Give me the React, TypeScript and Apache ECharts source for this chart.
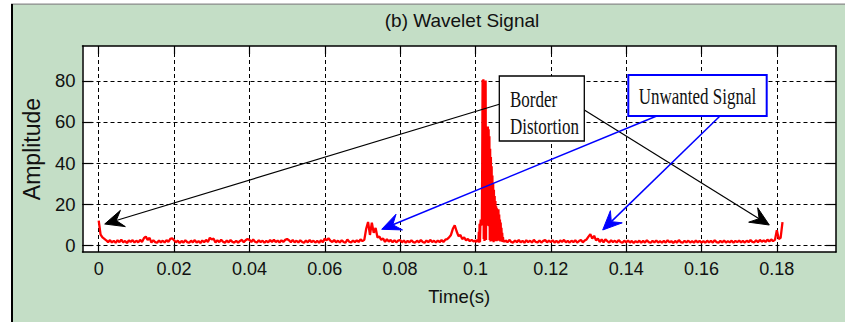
import React, { useEffect, useRef } from 'react';
import * as echarts from 'echarts';

const chartTitle = '(b) Wavelet Signal';
const xAxisName = 'Time(s)';
const yAxisName = 'Amplitude';
const xTicks = [0, 0.02, 0.04, 0.06, 0.08, 0.1, 0.12, 0.14, 0.16, 0.18];
const yTicks = [0, 20, 40, 60, 80];

// sampling grids
const coarseStep = 0.0005;
const fineStep = 0.0001;
const beforeStart = 0;
const spikeStart = 0.1001;
const afterStart = 0.108;

// amplitudes 0.0000 .. 0.1000 (step 0.0005)
const ampsBefore = [
  12.0, 5.2, 3.8, 3.1, 2.4, 1.4, 2.5, 1.3, 2.2, 1.2, 2.4, 1.5, 2.7, 1.4, 2.1, 1.1, 2.3, 1.6, 2.5, 1.3,
  2.2, 1.4, 2.6, 1.6, 3.4, 4.2, 2.6, 3.6, 1.3, 2.4, 1.5, 1.2, 2.3, 1.4, 2.2, 1.3, 2.5, 1.6, 3.1, 3.4,
  2.4, 1.4, 2.2, 1.1, 2.1, 1.3, 2.4, 1.5, 1.2, 2.2, 1.4, 2.5, 1.3, 2.0, 1.1, 2.3, 1.5, 2.6, 1.6, 3.6,
  2.8, 3.2, 1.3, 2.4, 1.5, 2.7, 1.7, 1.2, 2.3, 1.4, 2.5, 1.6, 1.3, 2.2, 1.2, 2.1, 2.6, 1.5, 2.4, 3.0,
  2.6, 1.6, 2.8, 1.7, 1.3, 2.4, 1.5, 2.2, 1.2, 2.1, 1.4, 2.5, 1.6, 2.7, 1.5, 2.3, 1.3, 2.4, 1.6, 2.6,
  3.0, 2.4, 1.5, 2.6, 1.4, 2.2, 1.3, 2.4, 1.6, 1.2, 2.3, 1.4, 2.5, 1.5, 2.2, 1.3, 2.1, 1.2, 2.4, 1.5,
  3.2, 2.4, 3.4, 2.2, 1.6, 2.5, 1.4, 2.2, 1.3, 2.4, 1.6, 1.2, 2.8, 1.7, 1.4, 2.3, 1.5, 2.4, 1.6, 2.8,
  2.0, 2.6, 8.0, 11.3, 5.0, 11.0, 6.0, 8.4, 3.8, 4.2, 2.6, 3.3, 1.6, 2.9, 1.8, 2.6, 1.5, 2.4, 1.4, 2.2,
  2.5, 1.4, 2.3, 1.2, 2.1, 1.4, 2.4, 1.5, 1.3, 2.2, 1.4, 2.5, 1.6, 1.2, 2.3, 1.5, 2.6, 1.6, 2.2, 1.3,
  2.3, 1.5, 2.5, 1.6, 2.7, 3.0, 3.8, 5.0, 8.0, 9.7, 6.8, 4.4, 5.0, 3.0, 3.8, 2.4, 3.0, 2.0, 2.6, 1.9,
  2.2,
];

// amplitudes 0.1001 .. 0.1079 (step 0.0001) - main burst
const spikeAmps = [
  2.0, 1.4, 2.5, 1.7, 2.8, 1.9, 2.4, 1.6, 6.5, 1.2,
  10.5, 1.5, 10.0, 12.5, 9.5, 11.5, 9.8, 40.0, 80.5, 12.0,
  80.8, 3.0, 80.0, 2.0, 79.5, 4.0, 80.2, 2.5, 57.5, 10.0,
  57.0, 9.5, 57.8, 11.0, 56.5, 9.2, 53.0, 2.5, 47.0, 1.8,
  43.0, 3.0, 38.5, 2.0, 34.0, 2.6, 30.0, 1.5, 27.0, 3.2,
  24.0, 2.0, 21.5, 2.8, 19.0, 1.9, 18.0, 3.5, 16.5, 2.2,
  17.5, 3.0, 15.0, 2.4, 12.5, 1.8, 11.0, 2.6, 8.5, 2.0,
  6.0, 1.6, 4.0, 2.4, 1.6, 2.3, 1.5, 2.1, 1.7,
];

// amplitudes 0.1080 .. 0.1815 (step 0.0005)
const ampsAfter = [
  2.4, 1.4, 2.6, 1.6,
  1.3, 2.3, 1.5, 2.5, 1.4, 2.1, 1.2, 2.4, 1.5, 2.2, 1.3, 2.6, 1.6, 1.4, 2.3, 1.3, 2.1, 2.5, 1.4, 2.2,
  1.5, 2.4, 1.3, 2.1, 1.2, 2.3, 1.6, 2.6, 1.4, 2.1, 1.3, 2.2, 1.5, 2.4, 1.3, 2.0, 2.5, 1.4, 2.3, 2.8,
  4.2, 5.4, 3.2, 4.6, 2.4, 3.2, 1.6, 2.8, 1.4, 2.8, 2.0, 1.3, 2.4, 1.5, 2.2, 1.3, 2.5, 1.6, 1.2, 2.2,
  1.4, 2.3, 1.3, 2.1, 1.1, 2.0, 1.4, 2.2, 1.2, 2.1, 1.3, 2.4, 1.5, 1.2, 2.1, 1.4, 2.3, 1.3, 2.0, 1.2,
  2.1, 1.3, 2.4, 1.4, 2.0, 1.1, 2.1, 1.3, 2.5, 1.5, 1.2, 2.1, 1.4, 2.2, 1.3, 2.0, 1.2, 2.3, 1.4, 2.1,
  1.3, 2.0, 1.2, 2.2, 1.4, 2.1, 1.3, 2.4, 1.5, 1.2, 2.1, 1.4, 2.3, 1.3, 2.0, 1.4, 2.2, 1.2, 2.1, 1.5,
  2.3, 1.4, 2.1, 1.3, 2.2, 1.5, 2.5, 1.6, 1.4, 2.4, 1.5, 2.6, 1.7, 2.4, 1.6, 2.7, 1.8, 2.8, 2.0, 2.6,
  7.3, 3.0, 3.6, 11.3,
];

const borderLines = ['Border', 'Distortion'];
const unwantedText = 'Unwanted Signal';

const SANS = '"Liberation Sans", Arial, sans-serif';
const SERIF = '"Liberation Serif", "Times New Roman", serif';

function buildData(): number[][] {
  const out: number[][] = [];
  ampsBefore.forEach((a, i) => out.push([+(beforeStart + i * coarseStep).toFixed(4), a]));
  spikeAmps.forEach((a, i) => out.push([+(spikeStart + i * fineStep).toFixed(4), a]));
  ampsAfter.forEach((a, i) => out.push([+(afterStart + i * coarseStep).toFixed(4), a]));
  return out;
}

function arrow(x1: number, y1: number, x2: number, y2: number, color: string, width: number) {
  const dx = x2 - x1, dy = y2 - y1;
  const len = Math.hypot(dx, dy);
  const ux = dx / len, uy = dy / len;
  const nx = -uy, ny = ux;
  const L = 19, W = 8.5, N = 12;
  const bx = x2 - ux * L, by = y2 - uy * L;
  const notchX = x2 - ux * N, notchY = y2 - uy * N;
  return [
    {
      type: 'line', z: 100,
      shape: { x1, y1, x2: notchX, y2: notchY },
      style: { stroke: color, lineWidth: width },
    },
    {
      type: 'polygon', z: 101,
      shape: { points: [[x2, y2], [bx + nx * W, by + ny * W], [notchX, notchY], [bx - nx * W, by - ny * W]] },
      style: { fill: color, stroke: color, lineWidth: 1 },
    },
  ];
}

export default function App() {
  const ref = useRef<HTMLDivElement>(null);
  useEffect(() => {
    if (!ref.current) return;
    const chart = echarts.init(ref.current, undefined, { renderer: 'svg' });
    const xMin = -0.0043, xMax = 0.1957, yMin = -3.3, yMax = 97;
    const axisLineStyle = { color: '#000', width: 1.5 };
    const gridLine = { show: true, lineStyle: { color: '#000', type: [4, 3], width: 1 } };
    const option: any = {
      animation: false,
      backgroundColor: '#c4dec6',
      title: {
        text: chartTitle, left: 457, top: 6, textAlign: 'center',
        textStyle: { fontFamily: SANS, fontSize: 19, fontWeight: 'normal', color: '#111' },
      },
      grid: {
        left: 82.5, right: 9, top: 46, bottom: 70, show: true, backgroundColor: '#ffffff',
        borderWidth: 0, containLabel: false, outerBoundsMode: 'none',
      },
      xAxis: [
        {
          type: 'value', min: xMin, max: xMax, position: 'bottom',
          name: xAxisName, nameLocation: 'middle', nameGap: 35,
          nameTextStyle: { fontFamily: SANS, fontSize: 18.5, color: '#111' },
          axisLine: { show: true, onZero: false, lineStyle: axisLineStyle },
          axisTick: { show: true, inside: true, length: 8, customValues: xTicks, lineStyle: { color: '#000', width: 1.2 } },
          axisLabel: {
            show: true, customValues: xTicks, margin: 8,
            formatter: (v: number) => String(Number(v.toFixed(2))),
            fontFamily: SANS, fontSize: 18, color: '#111',
          },
          splitLine: gridLine,
        },
        {
          type: 'value', min: xMin, max: xMax, position: 'top',
          axisLine: { show: true, onZero: false, lineStyle: axisLineStyle },
          axisTick: { show: true, inside: true, length: 8, customValues: xTicks, lineStyle: { color: '#000', width: 1.2 } },
          axisLabel: { show: false },
          splitLine: { show: false },
        },
      ],
      yAxis: [
        {
          type: 'value', min: yMin, max: yMax, position: 'left',
          name: yAxisName, nameLocation: 'middle', nameGap: 39, nameRotate: 90,
          nameTextStyle: { fontFamily: SANS, fontSize: 23, color: '#111' },
          axisLine: { show: true, onZero: false, lineStyle: axisLineStyle },
          axisTick: { show: true, inside: true, length: 10, customValues: yTicks, lineStyle: { color: '#000', width: 1.2 } },
          axisLabel: {
            show: true, customValues: yTicks, margin: 7,
            fontFamily: SANS, fontSize: 18.5, color: '#111',
          },
          splitLine: gridLine,
        },
        {
          type: 'value', min: yMin, max: yMax, position: 'right',
          axisLine: { show: true, onZero: false, lineStyle: axisLineStyle },
          axisTick: { show: true, inside: true, length: 10, customValues: yTicks, lineStyle: { color: '#000', width: 1.2 } },
          axisLabel: { show: false },
          splitLine: { show: false },
        },
      ],
      series: [
        {
          type: 'line', xAxisIndex: 0, yAxisIndex: 0, data: buildData(),
          symbol: 'none', showSymbol: false, silent: true, z: 3,
          lineStyle: { color: '#ff0000', width: 2.3 },
          itemStyle: { color: '#ff0000' },
        },
      ],
      graphic: [
        { type: 'rect', z: 50, shape: { x: 0, y: 0, width: 12, height: 322 }, style: { fill: '#ffffff' } },
        { type: 'rect', z: 50, shape: { x: 0, y: 0, width: 845, height: 4 }, style: { fill: '#ffffff' } },
        { type: 'rect', z: 51, shape: { x: 11, y: 3.5, width: 834, height: 1.2 }, style: { fill: '#8a8a8a' } },
        { type: 'rect', z: 51, shape: { x: 11, y: 4, width: 2, height: 318 }, style: { fill: '#000000' } },
        ...arrow(499.3, 104.3, 104.7, 224, '#000000', 1.2),
        ...arrow(584.3, 110, 769.3, 225, '#000000', 1.2),
        ...arrow(656.7, 116, 381.7, 229.3, '#0000ff', 1.5),
        ...arrow(720, 116, 602.7, 230, '#0000ff', 1.5),
        {
          type: 'rect', z: 102, shape: { x: 499.3, y: 76, width: 85, height: 65 },
          style: { fill: '#ffffff', stroke: '#000000', lineWidth: 1.3 },
        },
        {
          type: 'text', z: 103, x: 510, y: 99.3, scaleY: 1.3,
          style: { text: borderLines[0], font: `17px ${SERIF}`, fill: '#111', textVerticalAlign: 'middle', verticalAlign: 'middle' },
        },
        {
          type: 'text', z: 103, x: 510, y: 125.7, scaleY: 1.3,
          style: { text: borderLines[1], font: `17px ${SERIF}`, fill: '#111', textVerticalAlign: 'middle', verticalAlign: 'middle' },
        },
        {
          type: 'rect', z: 102, shape: { x: 628.3, y: 75, width: 138.4, height: 41 },
          style: { fill: '#ffffff', stroke: '#0000ff', lineWidth: 2 },
        },
        {
          type: 'text', z: 103, x: 697.5, y: 96, scaleY: 1.3,
          style: { text: unwantedText, font: `17px ${SERIF}`, fill: '#111', align: 'center', textAlign: 'center', verticalAlign: 'middle', textVerticalAlign: 'middle' },
        },
      ],
    };
    chart.setOption(option);
    return () => chart.dispose();
  }, []);
  return <div ref={ref} style={{ position: 'fixed', left: 0, top: 0, width: 845, height: 322 }} />;
}
